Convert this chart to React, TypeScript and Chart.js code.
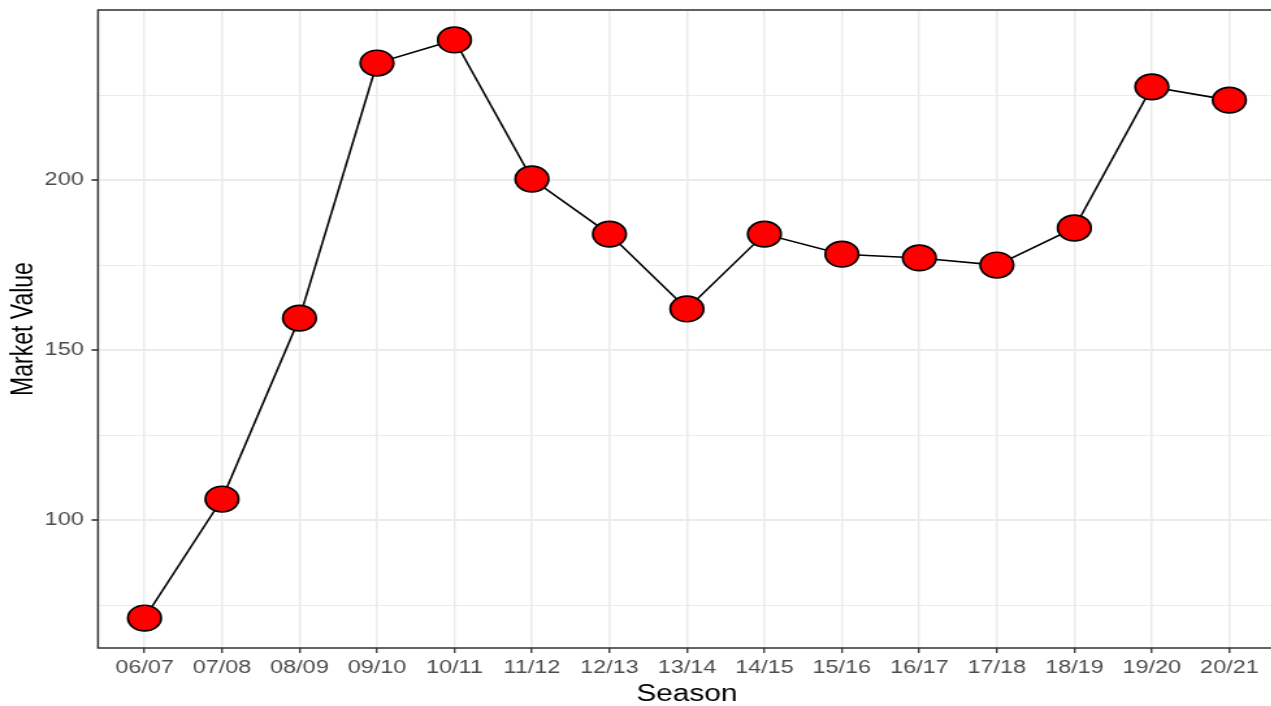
import React, { useEffect, useRef } from "react";
import { Chart, registerables } from "chart.js";

Chart.register(...registerables);

const seasons = [
  "06/07", "07/08", "08/09", "09/10", "10/11", "11/12", "12/13", "13/14",
  "14/15", "15/16", "16/17", "17/18", "18/19", "19/20", "20/21",
];
const marketValues = [
  71.2, 106.2, 159.4, 234.4, 241.2, 200.3, 184.1, 162.1,
  184.1, 178.2, 177.1, 175.0, 185.9, 227.4, 223.5,
];
const yTickValues = [75, 100, 125, 150, 175, 200, 225, 250];
const yLabelValues = [100, 150, 200];

const STRETCH = 1.3;
const CW = 984;
const CH = 706;
const FONT = "'Liberation Sans', Arial, sans-serif";

const panelBorder = {
  id: "panelBorder",
  afterDraw(chart: any) {
    const { ctx, chartArea } = chart;
    ctx.save();
    ctx.strokeStyle = "#333333";
    ctx.lineWidth = 1.5;
    ctx.strokeRect(chartArea.left, chartArea.top, chartArea.right - chartArea.left, chartArea.bottom - chartArea.top);
    ctx.restore();
  },
};

const zeroPad = (scale: any) => {
  scale.paddingLeft = 0;
  scale.paddingRight = 0;
  scale.paddingTop = 0;
  scale.paddingBottom = 0;
};

export default function App() {
  const ref = useRef<HTMLCanvasElement>(null);

  useEffect(() => {
    document.body.style.margin = "0";
    const chart = new Chart(ref.current as HTMLCanvasElement, {
      type: "line",
      data: {
        datasets: [
          {
            data: marketValues.map((v, i) => ({ x: i, y: v })),
            borderColor: "#000000",
            borderWidth: 1.6,
            pointRadius: 12.8,
            pointBorderWidth: 1.7,
            pointBackgroundColor: "#ff0000",
            pointBorderColor: "#000000",
            tension: 0,
          },
        ],
      },
      options: {
        animation: false,
        responsive: false,
        layout: { autoPadding: false, padding: { top: 10, right: 2.6, left: 0, bottom: 0 } },
        plugins: { legend: { display: false }, tooltip: { enabled: false } },
        scales: {
          x: {
            type: "linear",
            min: -0.6,
            max: 14.6,
            afterBuildTicks: (scale: any) => {
              scale.ticks = seasons.map((_, i) => ({ value: i }));
            },
            afterFit: (scale: any) => {
              scale.height = 58;
              zeroPad(scale);
            },
            border: { display: false },
            grid: {
              color: "#ebebeb",
              lineWidth: 1.5,
              drawTicks: true,
              tickLength: 5,
              tickColor: "#333333",
              tickWidth: 1.3,
            },
            ticks: {
              autoSkip: false,
              maxRotation: 0,
              padding: 4,
              color: "#4d4d4d",
              font: { family: FONT, size: 18 },
              callback: (v: any) => seasons[v] ?? "",
            },
            title: {
              display: true,
              text: "Season",
              color: "#000000",
              font: { family: FONT, size: 23, lineHeight: 1 },
              padding: { top: 0, bottom: 0 },
            },
          },
          y: {
            type: "linear",
            min: 62.4,
            max: 250,
            afterBuildTicks: (scale: any) => {
              scale.ticks = yTickValues.map((v) => ({ value: v }));
            },
            afterFit: (scale: any) => {
              scale.width = 75.4;
              zeroPad(scale);
            },
            border: { display: false },
            grid: {
              color: "#ebebeb",
              lineWidth: (ctx: any) => (ctx.tick && ctx.tick.value % 50 === 0 ? 2 : 1),
              drawTicks: true,
              tickLength: 5,
              tickWidth: 1.6,
              tickColor: (ctx: any) =>
                ctx.tick && yLabelValues.includes(ctx.tick.value) ? "#333333" : "rgba(0,0,0,0)",
            },
            ticks: {
              padding: 6,
              color: "#4d4d4d",
              font: { family: FONT, size: 18 },
              callback: (v: any) => (yLabelValues.includes(v) ? String(v) : ""),
            },
            title: {
              display: true,
              text: "Market Value",
              color: "#000000",
              font: { family: FONT, size: 23, lineHeight: 1 },
              padding: { top: 7.5, bottom: 0 },
            },
          },
        },
      },
      plugins: [panelBorder],
    });
    return () => chart.destroy();
  }, []);

  return (
    <div style={{ position: "fixed", left: 0, top: 0, width: 1271, height: 706, overflow: "hidden", background: "#fff" }}>
      <div style={{ width: CW, height: CH, transform: `scaleX(${STRETCH})`, transformOrigin: "0 0" }}>
        <canvas ref={ref} width={CW} height={CH} />
      </div>
    </div>
  );
}
